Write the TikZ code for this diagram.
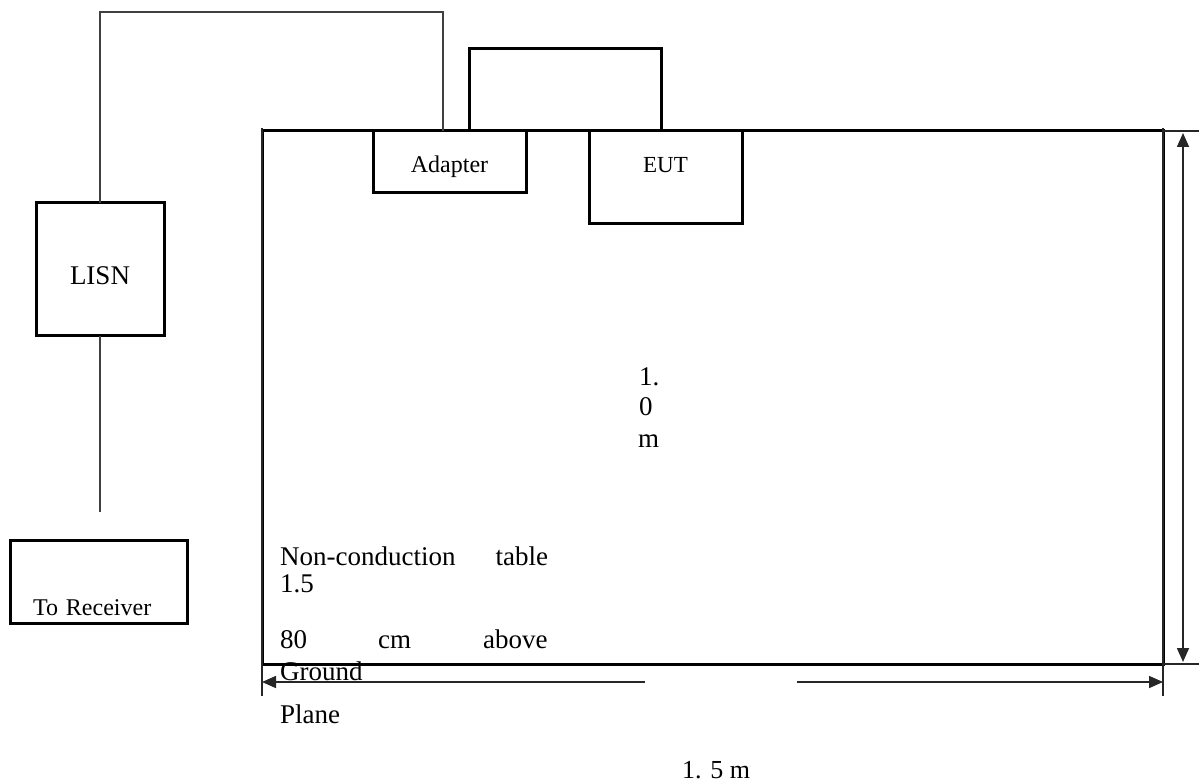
\documentclass[tikz,border=0pt]{standalone}
\usepackage{fontspec}
\setmainfont{Liberation Serif}
\usetikzlibrary{positioning, arrows.meta, calc}

\begin{document}
\begin{tikzpicture}[
    x=1pt, y=1pt,
    box/.style={draw, line width=3pt, inner sep=0pt, outer sep=0pt, font=\fontsize{24}{28}\selectfont},
    wire/.style={draw=black!75, line width=2.8pt},
    cable/.style={draw, line width=3pt},
    ext/.style={black!85, line width=1.6pt},
    dimarr/.style={ext, -{Triangle[length=14pt, width=12pt]}},
    txt/.style={font=\fontsize{27}{32}\selectfont, inner sep=0pt, anchor=base west},
]
    \useasboundingbox (0,0) rectangle (1199,-783);

    % Table and equipment
    \node[box, minimum width=901pt, minimum height=533pt]              (table)   at (712.5,-397.5) {};
    \node[box, minimum width=153pt, minimum height=62pt, text height=22pt, text depth=0pt] (adapter) at (449.5,-162) {Adapter};
    \node[box, minimum width=153pt, minimum height=93pt, text height=0pt, text depth=9pt, font=\fontsize{23}{27}\selectfont] (eut) at (665.5,-177.5) {EUT};
    \node[box, minimum width=128pt, minimum height=133pt, text height=31pt, text depth=0pt, font=\fontsize{27}{30}\selectfont] (lisn) at (100,-269.5) {LISN};
    \node[box, minimum width=177pt, minimum height=83pt, text height=67pt, text depth=0pt,
          text width=131pt, align=left] (rx) at (98.5,-581.5) {To Receiver};

    % Cables
    \coordinate (bend)    at (443,-12);
    \coordinate (lisnend) at (100,-512);
    \draw[wire]  (lisn.north) |- (bend) -- (bend |- adapter.north);
    \draw[wire]  (lisn.south) -- (lisnend);
    \draw[cable] ([xshift=19.5pt]adapter.north) -- ++(0,82) -| ([xshift=-4.5pt]eut.north);

    % Extension lines
    \draw[ext] ([yshift=3pt]table.north west) -- ([yshift=-32pt]table.south west);
    \draw[ext] ([yshift=3pt]table.north east) -- ([yshift=-32pt]table.south east);
    \draw[ext] (table.north east) -- ++(36,0);
    \draw[ext] (table.south east) -- ++(36,0);

    % Dimensions
    \draw[ext, {Triangle[length=14pt, width=12pt]}-{Triangle[length=14pt, width=12pt]}]
        ([xshift=20pt, yshift=-2pt]table.north east) -- ([xshift=20pt, yshift=2pt]table.south east);
    \coordinate (dimL) at (645,-682);
    \coordinate (dimR) at (797,-682);
    \draw[dimarr] (dimL) -- (dimL -| table.west);
    \draw[dimarr] (dimR) -- (dimR -| table.east);

    % Labels
    \node[txt] (h1) at (639,-385) {1.};
    \node[txt] (h2) at (639,-415) {0};
    \node[txt] (h3) at (638,-447) {m};
    \node[txt, font=\fontsize{26}{30}\selectfont] (w1) at (682,-778) {1. 5 m};
    \node[txt] (n1) at (280,-565) {Non-conduction\hspace{40pt}table};
    \node[txt] (n2) at (280,-592) {1.5};
    \node[txt] (n3) at (280,-648) {80\hspace{71pt}cm\hspace{72pt}above};
    \node[txt] (n4) at (280,-680) {Ground};
    \node[txt] (n5) at (280,-723) {Plane};
\end{tikzpicture}
\end{document}
